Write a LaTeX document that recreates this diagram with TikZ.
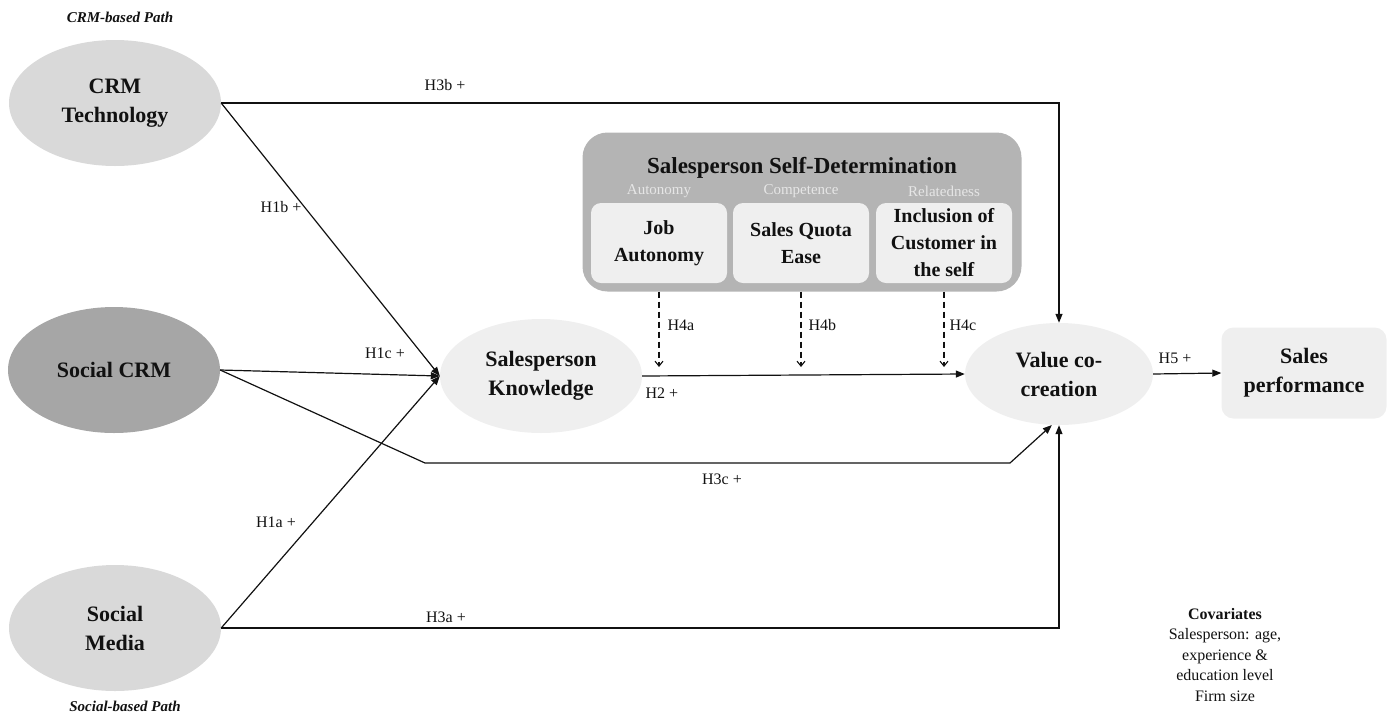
\documentclass[tikz,border=0pt]{standalone}
\usepackage{fontspec}
\setmainfont{Liberation Serif}
\usepackage{xcolor}
\usepackage{tikz}
\usetikzlibrary{positioning,arrows.meta,calc,shapes.geometric}
\definecolor{ink}{HTML}{111111}
\definecolor{gLight}{HTML}{EFEFEF}
\definecolor{gMid}{HTML}{D9D9D9}
\definecolor{gDark}{HTML}{A6A6A6}
\definecolor{gBox}{HTML}{B4B4B4}
\definecolor{gSub}{HTML}{E6E6E6}
\tikzset{
  src/.style={ellipse, fill=gMid, minimum width=212pt, minimum height=126pt, inner sep=0pt, align=center, font=\bfseries\fontsize{22}{29}\selectfont, text=ink},
  srcdark/.style={src, fill=gDark},
  endo/.style={ellipse, fill=gLight, inner sep=0pt, align=center, font=\bfseries\fontsize{22}{29}\selectfont, text=ink},
  outbox/.style={rectangle, rounded corners=12pt, fill=gLight, minimum width=165pt, minimum height=91pt, align=center, font=\bfseries\fontsize{22}{29}\selectfont, text=ink},
  sdbox/.style={rectangle, rounded corners=25pt, fill=gBox, minimum width=439pt, minimum height=159pt},
  dimbox/.style={rectangle, rounded corners=10pt, fill=gLight, minimum width=136pt, minimum height=80pt, align=center, font=\bfseries\fontsize{20}{27}\selectfont, text=ink},
  dimlbl/.style={font=\fontsize{15}{17}\selectfont, text=gSub},
  hyp/.style={font=\fontsize{16}{18}\selectfont, text=ink},
  pathlbl/.style={font=\bfseries\itshape\fontsize{15}{17}\selectfont, text=ink},
  link/.style={draw=ink, line width=1.2pt, -{Triangle[length=9pt,width=7pt]}},
  modlink/.style={draw=ink, line width=1.1pt, dash pattern=on 6pt off 4pt, -{Straight Barb[length=5pt,width=8pt]}},
}

\begin{document}
\begin{tikzpicture}[x=1pt,y=-1pt]
\useasboundingbox (0,0) rectangle (1392,716);
% path labels
\node[pathlbl] (crmpath) at (120,17) {CRM-based Path};
\node[pathlbl] (socpath) at (125,706) {Social-based Path};
% exogenous constructs
\node[src] (crmtech) at (115,103) {CRM\\Technology};
\node[srcdark] (scrm) at (114,370) {Social CRM};
\node[src] (smedia) at (115,628) {Social\\Media};
% mediator and outcomes
\node[endo, minimum width=202pt, minimum height=114pt] (know) at (541,376) {Salesperson\\Knowledge};
\node[endo, minimum width=188pt, minimum height=102pt] (vcc) at (1059,374) {Value co-\\creation};
\node[outbox] (perf) at (1304,373) {Sales\\performance};
% self-determination block
\node[sdbox] (sd) at (802,212) {};
\node[font=\bfseries\fontsize{23}{26}\selectfont, text=ink] (sdtitle) at (802,168) {Salesperson Self-Determination};
\node[dimbox] (jobaut) at (659,243) {Job\\Autonomy};
\node[dimbox] (quota) at (801,243) {Sales Quota\\Ease};
\node[dimbox] (incl) at (944,243) {Inclusion of\\Customer in\\the self};
\node[dimlbl] (autlbl) at (659,191) {Autonomy};
\node[dimlbl] (comlbl) at (801,191) {Competence};
\node[dimlbl] (rellbl) at (944,191) {Relatedness};
% helper corners
\coordinate (h3cA) at (425,463);
\coordinate (h3cB) at (1010,463);
% structural paths
\draw[link] (crmtech.east) -- (crmtech.east -| vcc.north) -- (vcc.north);
\draw[link] (crmtech.east) -- (know.west);
\draw[link] (scrm.east) -- (know.west);
\draw[link] (smedia.east) -- (know.west);
\draw[link] (scrm.east) -- (h3cA) -- (h3cB) -- (vcc.-98);
\draw[link] (smedia.east) -- (smedia.east -| vcc.south) -- (vcc.south);
\draw[link] (know.east) -- (vcc.west);
\draw[link] (vcc.east) -- (perf.west);
% moderations
\draw[modlink] (jobaut.south |- sd.south) -- ($(jobaut.south |- know.east)+(0,-9)$);
\draw[modlink] (quota.south |- sd.south) -- ($(quota.south |- know.east)+(0,-9)$);
\draw[modlink] (incl.south |- sd.south) -- ($(incl.south |- know.east)+(0,-9)$);
% hypothesis labels
\node[hyp] (lh3b) at (445,85) {H3b +};
\node[hyp] (lh1b) at (281,207) {H1b +};
\node[hyp] (lh1c) at (385,353) {H1c +};
\node[hyp] (lh1a) at (276,522) {H1a +};
\node[hyp] (lh3c) at (722,479) {H3c +};
\node[hyp] (lh3a) at (446,617) {H3a +};
\node[hyp, anchor=west] (lh2) at (642,393) {H2 +};
\node[hyp] (lh5) at (1175,358) {H5 +};
\node[hyp, anchor=west] (lh4a) at (664,325) {H4a};
\node[hyp, anchor=west] (lh4b) at (805,325) {H4b};
\node[hyp, anchor=west] (lh4c) at (946,325) {H4c};
% covariates
\node[font=\fontsize{16}{20.5}\selectfont, align=center, text=ink] (covar) at (1225,655) {\textbf{Covariates}\\Salesperson: age,\\experience \&\\education level\\Firm size};
\end{tikzpicture}
\end{document}
